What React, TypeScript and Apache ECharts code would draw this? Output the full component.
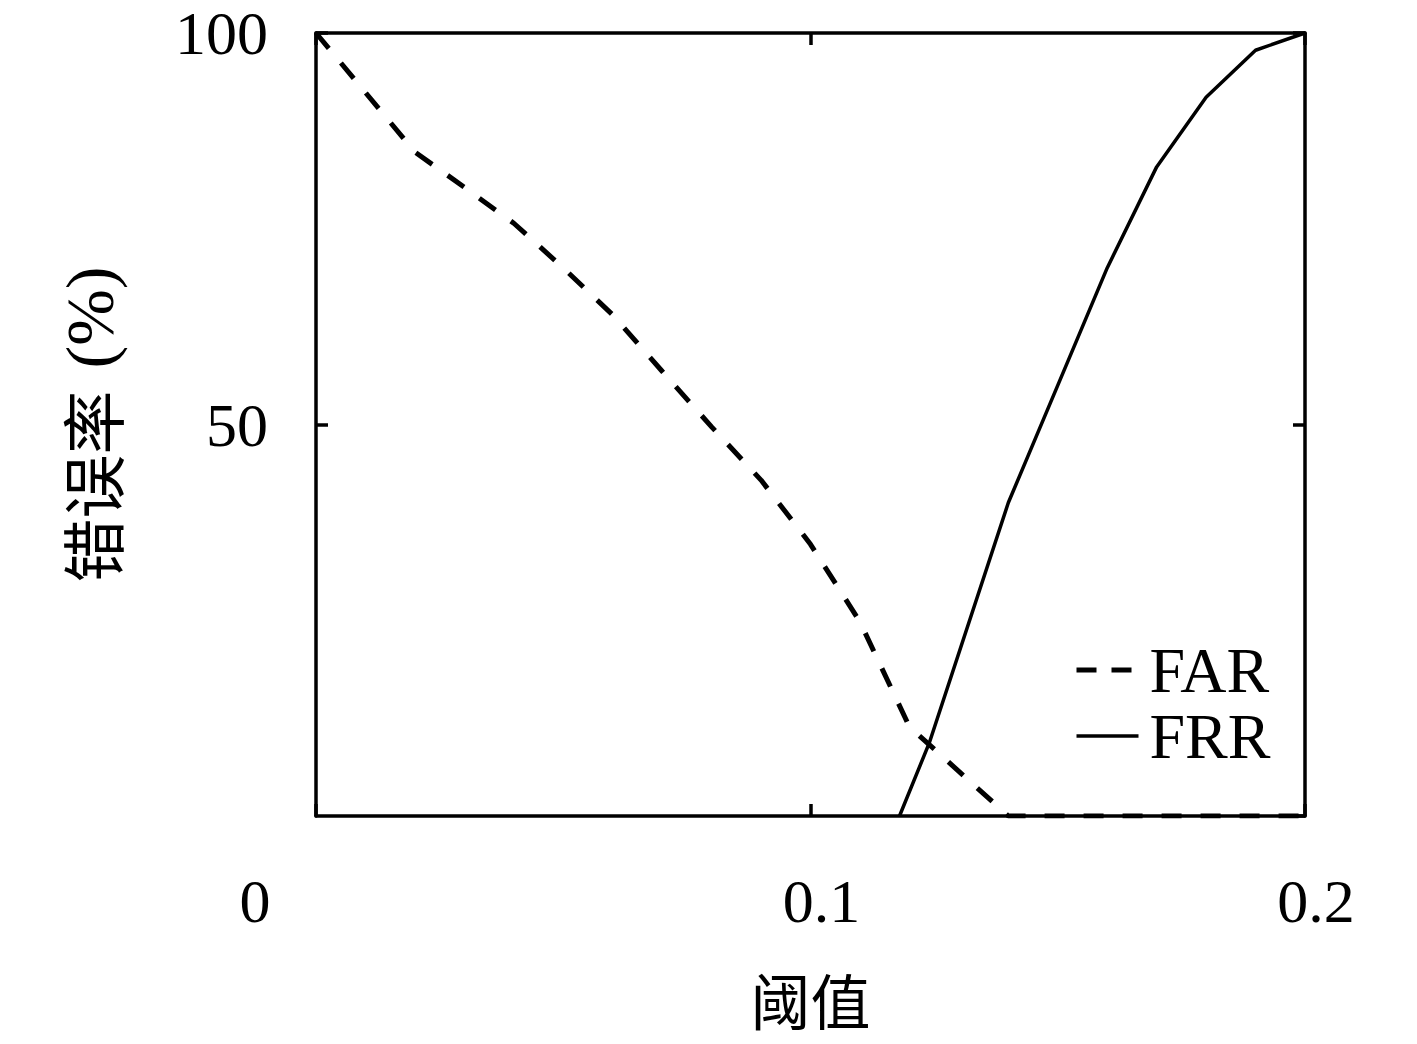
import React, { useEffect, useRef } from "react";
import * as echarts from "echarts";

const farX = [0, 0.01, 0.02, 0.03, 0.04, 0.05, 0.06, 0.07, 0.08, 0.09, 0.1, 0.11, 0.12, 0.13, 0.14, 0.15, 0.16, 0.17, 0.18, 0.19, 0.2];
const farY = [100, 92.4, 84.8, 80.3, 75.7, 70, 64, 56.8, 49.7, 42.9, 34.7, 24.8, 11.4, 5.7, 0, 0, 0, 0, 0, 0, 0];
const frrX = [0.118, 0.124, 0.14, 0.15, 0.16, 0.17, 0.18, 0.19, 0.2];
const frrY = [0, 9.3, 40, 55, 70, 82.9, 91.8, 97.8, 100];
const seriesNames = ["FAR", "FRR"];
const xTicks = [0, 0.1, 0.2];
const yTicks = [0, 50, 100];
const xTitle = "阈值";
const yTitleCn = "错误率";
const yTitleUnit = "(%)";

const SERIF = "'Liberation Serif', 'DejaVu Serif', serif";
const CJK = "'Noto Sans CJK SC', sans-serif";
const INK = "#000";

export default function App() {
  const ref = useRef<HTMLDivElement>(null);
  useEffect(() => {
    if (!ref.current) return;
    const chart = echarts.init(ref.current, null, { renderer: "svg" });
    const frame = {
      axisLine: { show: true, onZero: false, lineStyle: { color: INK, width: 3.5 } },
      axisTick: { show: true, inside: true, length: 12, lineStyle: { color: INK, width: 3.5 } },
      splitLine: { show: false },
    };
    const xLabel = {
      fontFamily: SERIF,
      fontSize: 62,
      color: INK,
      margin: 54,
      formatter: (v: number) => {
        const s = String(Math.round(v * 10) / 10);
        if (v === xTicks[0]) return `{z|${s}}`;
        return `{n|${s}}`;
      },
      rich: {
        z: { fontFamily: SERIF, fontSize: 62, color: INK, padding: [0, 122, 0, 0] },
        n: { fontFamily: SERIF, fontSize: 62, color: INK, padding: [0, 0, 0, 22] },
      },
    };
    chart.setOption({
      animation: false,
      backgroundColor: "#fff",
      grid: { left: 316, top: 33, right: 112, bottom: 228, containLabel: false },
      legend: {
        orient: "vertical",
        left: 1069,
        top: 633,
        itemWidth: 62,
        itemHeight: 14,
        itemGap: 2,
        itemStyle: { opacity: 0 },
        textStyle: { fontFamily: SERIF, fontSize: 64, color: INK, padding: [0, 0, 0, 6] },
        data: [
          { name: seriesNames[0], lineStyle: { color: INK, width: 5, type: [20, 15] } },
          { name: seriesNames[1], lineStyle: { color: INK, width: 3.5, type: "solid" } },
        ],
      },
      xAxis: [
        {
          type: "value",
          min: xTicks[0],
          max: xTicks[2],
          interval: 0.1,
          position: "bottom",
          ...frame,
          axisLabel: xLabel,
          name: xTitle,
          nameLocation: "middle",
          nameGap: 150,
          nameTextStyle: { fontFamily: CJK, fontSize: 60, color: INK, lineHeight: 64 },
        },
        {
          type: "value",
          min: xTicks[0],
          max: xTicks[2],
          interval: 0.1,
          position: "top",
          ...frame,
          axisLabel: { show: false },
        },
      ],
      yAxis: [
        {
          type: "value",
          min: yTicks[0],
          max: yTicks[2],
          interval: 50,
          position: "left",
          ...frame,
          axisLabel: {
            fontFamily: SERIF,
            fontSize: 62,
            color: INK,
            margin: 48,
            showMinLabel: false,
          },
          name: `{c|${yTitleCn}}{s| }{l|${yTitleUnit}}`,
          nameLocation: "middle",
          nameRotate: 90,
          nameGap: 192,
          nameTextStyle: {
            rich: {
              c: { fontFamily: CJK, fontSize: 64, color: INK },
              s: { fontFamily: SERIF, fontSize: 64, color: INK, width: 22 },
              l: { fontFamily: SERIF, fontSize: 68, color: INK },
            },
          },
        },
        {
          type: "value",
          min: yTicks[0],
          max: yTicks[2],
          interval: 50,
          position: "right",
          ...frame,
          axisLabel: { show: false },
        },
      ],
      series: [
        {
          name: seriesNames[0],
          type: "line",
          data: farX.map((x, i) => [x, farY[i]]),
          symbol: "none",
          lineStyle: { color: INK, width: 5, type: [20, 19] },
          itemStyle: { color: INK },
        },
        {
          name: seriesNames[1],
          type: "line",
          data: frrX.map((x, i) => [x, frrY[i]]),
          symbol: "none",
          lineStyle: { color: INK, width: 3.5, type: "solid" },
          itemStyle: { color: INK },
        },
      ],
    });
    return () => chart.dispose();
  }, []);
  return (
    <div
      ref={ref}
      style={{ position: "absolute", left: 0, top: 0, width: 1417, height: 1044, background: "#fff" }}
    />
  );
}
